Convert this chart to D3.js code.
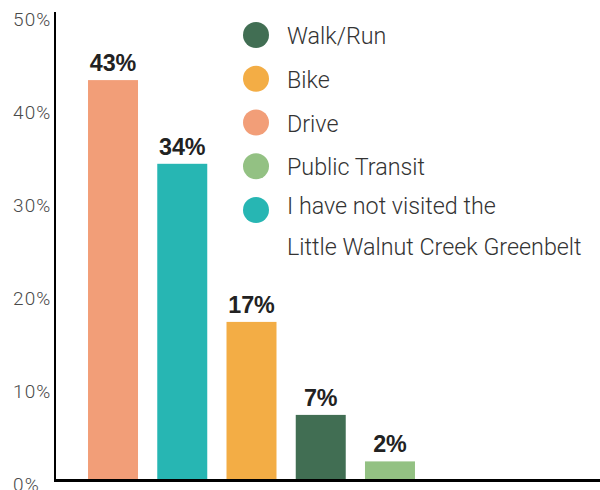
<!DOCTYPE html>
<html>
<head>
<meta charset="utf-8">
<script src="https://cdn.jsdelivr.net/npm/d3@7"></script>
<style>
  body { margin: 0; background: #fff; }
  svg { display: block; }
</style>
</head>
<body>
<div id="chart"></div>
<script>
// data
const categories = ["Drive", "I have not visited the Little Walnut Creek Greenbelt", "Bike", "Walk/Run", "Public Transit"];
const values = [43, 34, 17, 7, 2];
const barColors = ["#f29e78", "#27b6b3", "#f3ad45", "#416e53", "#93c183"];
const yTicks = [0, 10, 20, 30, 40, 50];

const legendNames = ["Walk/Run", "Bike", "Drive", "Public Transit", "I have not visited the|Little Walnut Creek Greenbelt"];
const legendColors = ["#416e53", "#f3ad45", "#f29e78", "#93c183", "#27b6b3"];

const width = 600, height = 490;

const svg = d3.select("#chart")
  .append("svg")
  .attr("width", width)
  .attr("height", height);

// scales
const y = d3.scaleLinear().domain([0, 50]).range([480, 15]);
const x = d3.scaleBand()
  .domain(categories)
  .range([78.4, 424.6])
  .paddingInner(0.278)
  .paddingOuter(0.139);

// bars
svg.selectAll(".bar")
  .data(values)
  .enter()
  .append("rect")
  .attr("class", "bar")
  .attr("x", (d, i) => x(categories[i]))
  .attr("y", d => y(d))
  .attr("width", x.bandwidth())
  .attr("height", d => y(0) - y(d))
  .attr("fill", (d, i) => barColors[i]);

// value labels
svg.selectAll(".val")
  .data(values)
  .enter()
  .append("text")
  .attr("class", "val")
  .attr("x", (d, i) => x(categories[i]) + x.bandwidth() / 2)
  .attr("y", d => y(d) - 9)
  .attr("text-anchor", "middle")
  .attr("font-family", "'Liberation Sans', Arial, sans-serif")
  .attr("font-weight", "bold")
  .attr("font-size", 23.3)
  .attr("fill", "#222")
  .text(d => d + "%");

// y axis
const yAxis = d3.axisLeft(y).tickValues(yTicks).tickSize(0).tickFormat(d => d + "%");
const gy = svg.append("g")
  .attr("transform", "translate(55,0)")
  .call(yAxis);
gy.select(".domain").remove();
gy.selectAll("text")
  .attr("x", -42)
  .attr("dy", "0.54em")
  .attr("text-anchor", "start")
  .attr("font-family", "Roboto, sans-serif")
  .attr("font-weight", 300)
  .attr("font-size", 19)
  .attr("letter-spacing", 1.1)
  .attr("fill", "#4a4a4a");

svg.append("line")
  .attr("x1", 55).attr("x2", 55)
  .attr("y1", 12).attr("y2", y(0))
  .attr("stroke", "#000")
  .attr("stroke-width", 2);

svg.append("line")
  .attr("x1", 54).attr("x2", 600)
  .attr("y1", y(0) + 0.5).attr("y2", y(0) + 0.5)
  .attr("stroke", "#000")
  .attr("stroke-width", 3);

// legend
const legend = svg.append("g").attr("class", "legend");
const items = legend.selectAll(".item")
  .data(legendNames)
  .enter()
  .append("g")
  .attr("class", "item")
  .attr("transform", (d, i) => "translate(256," + (35 + i * 43.75) + ")");

items.append("circle")
  .attr("r", 13)
  .attr("fill", (d, i) => legendColors[i]);

items.append("text")
  .attr("font-family", "Roboto, sans-serif")
  .attr("font-weight", 300)
  .attr("font-size", 23.3)
  .attr("fill", "#333")
  .each(function(d, i) {
    const lines = d.split("|");
    const t = d3.select(this);
    lines.forEach((l, j) => {
      t.append("tspan")
        .attr("x", 31)
        .attr("y", (lines.length > 1 ? 4 : 9) + j * 41)
        .text(l);
    });
  });
</script>
</body>
</html>
